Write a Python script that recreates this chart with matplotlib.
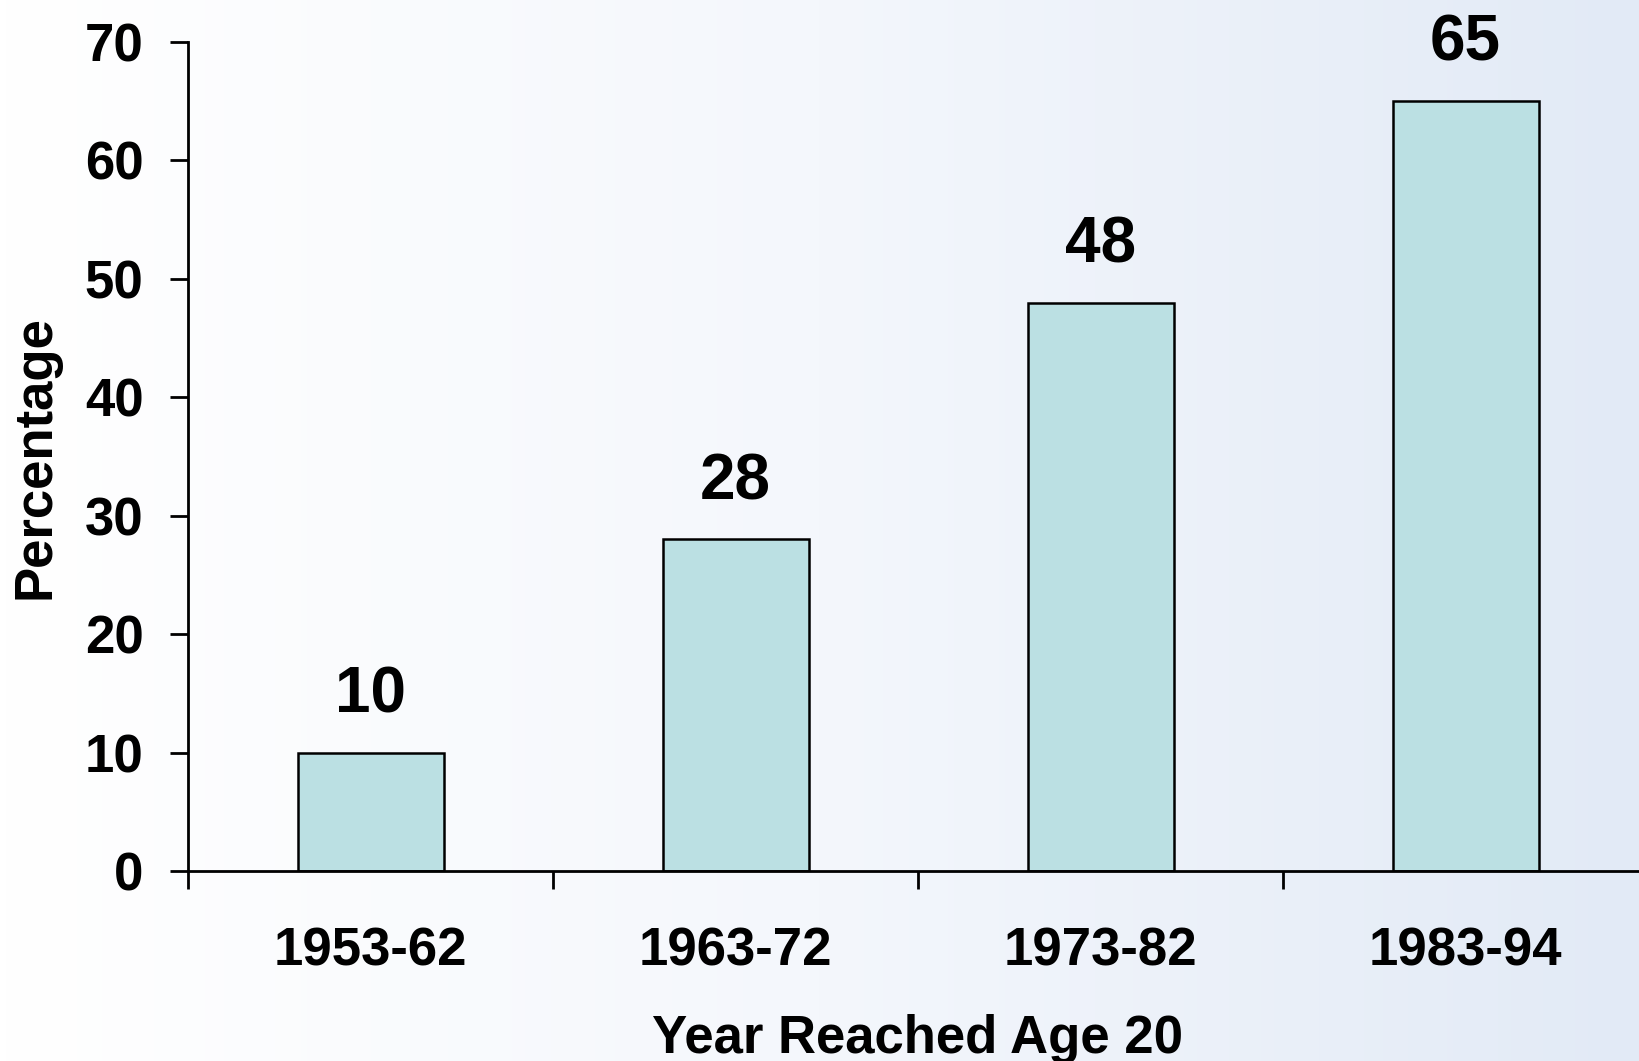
import numpy as np
import matplotlib
matplotlib.use("Agg")
from matplotlib import pyplot as plt
from matplotlib.colors import LinearSegmentedColormap

# data
periods = ["1953-62", "1963-72", "1973-82", "1983-94"]
values = [10, 28, 48, 65]
yticks = [0, 10, 20, 30, 40, 50, 60, 70]

plt.rcParams['font.family'] = ['Liberation Sans', 'DejaVu Sans']
plt.rcParams['font.weight'] = 'bold'

fig = plt.figure(figsize=(16.39, 10.61), dpi=100)

# background gradient, white on the left to pale blue on the right
bg = fig.add_axes([0, 0, 1, 1], zorder=-10)
cmap = LinearSegmentedColormap.from_list("bg", ["#FFFFFF", "#F4F7FC", "#E2EAF6"])
grad = np.linspace(0, 1, 256).reshape(1, -1)
bg.imshow(grad, aspect='auto', cmap=cmap, extent=[0, 1, 0, 1])
bg.axis('off')

ax = fig.add_axes([188/1639, 190/1061, 1 - 188/1639, (1019 - 190)/1061])
ax.patch.set_alpha(0)

x = np.arange(len(periods))
bars = ax.bar(x, values, width=0.40, color="#BBE0E3", edgecolor="black", linewidth=1.8)

for xi, v in zip(x, values):
    ax.annotate(str(v), (xi, v), xytext=(0, 29), textcoords='offset points',
                ha='center', va='baseline', fontsize=46, fontweight='bold')

ax.set_xlim(-0.5, 3.475)
ax.set_ylim(0, 70)

ax.spines['top'].set_visible(False)
ax.spines['right'].set_visible(False)
ax.spines['left'].set_linewidth(2)
ax.spines['bottom'].set_linewidth(2)

ax.set_yticks(yticks)
ax.set_yticklabels([str(t) for t in yticks])
ax.tick_params(axis='y', direction='out', length=13, width=2, pad=19, labelsize=38)

# boundary ticks without labels, labels at category centres
ax.set_xticks(np.arange(-0.5, 3.0, 1.0))
ax.set_xticklabels([])
ax.tick_params(axis='x', which='major', direction='out', length=13, width=2)
ax.set_xticks(x, minor=True)
ax.set_xticklabels(periods, minor=True)
ax.tick_params(axis='x', which='minor', length=0, pad=40, labelsize=38)

fig.text(918/1639, 8/1061, "Year Reached Age 20", ha='center', va='baseline',
         fontsize=38, fontweight='bold')
fig.text(11/1639, 0.569, "Percentage", rotation=90, ha='left', va='center',
         fontsize=38, fontweight='bold')

fig.savefig("out.png", dpi=100)
